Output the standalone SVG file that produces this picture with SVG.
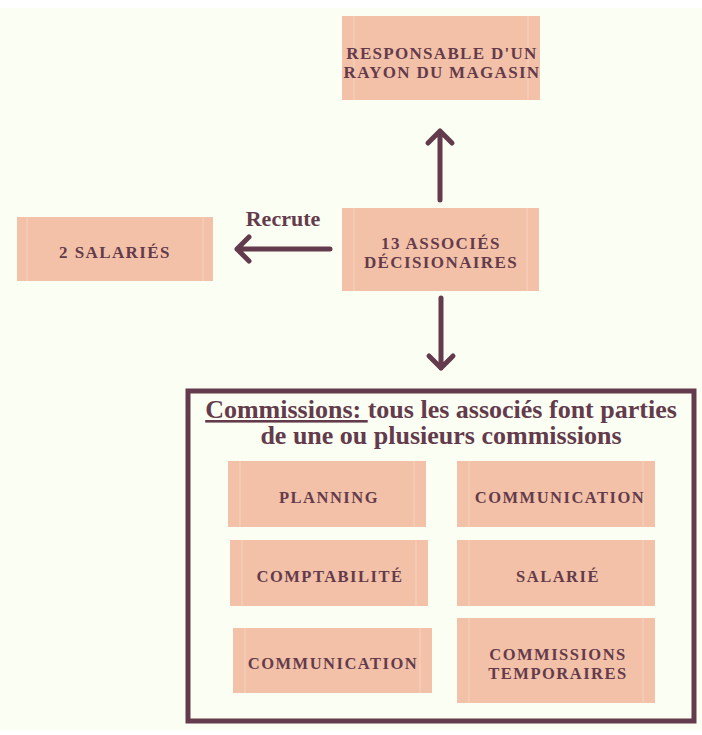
<svg xmlns="http://www.w3.org/2000/svg" width="702" height="735" viewBox="0 0 702 735">
<defs>
<style>
.box{fill:#F3C1A7}
.edge{stroke:#F7D3C0;stroke-width:1}
.lbl{font-family:"Liberation Serif",serif;font-weight:bold;font-size:16.5px;letter-spacing:1.5px;fill:#633B4C;text-anchor:middle}
.top{font-size:17px}
.title{font-family:"Liberation Serif",serif;font-weight:bold;font-size:26px;fill:#633B4C;text-anchor:middle}
.arr{stroke:#633B4C;stroke-width:5;stroke-linecap:round;stroke-linejoin:round;fill:none}
</style>
</defs>
<rect x="0" y="0" width="702" height="735" fill="#FFFFFF"/>
<rect x="0" y="8" width="702" height="722" fill="#FBFEF2"/>

<g id="connectors">
<path class="arr" d="M440 200 V131 M428 143 L440 131 L452 143"/>
<path class="arr" d="M330 249 H237 M249 237 L237 249 L249 261"/>
<path class="arr" d="M441 298 V368 M429 356 L441 368 L453 356"/>
<text x="283" y="226" class="title" style="font-size:22px">Recrute</text>
</g>

<g id="responsable">
<rect class="box" x="342" y="16" width="198" height="84"/>
<line class="edge" x1="354" y1="16" x2="354" y2="100"/><line class="edge" x1="528" y1="16" x2="528" y2="100"/>
<text class="lbl top" x="442" y="59" style="letter-spacing:1.3px">RESPONSABLE D'UN</text>
<text class="lbl top" x="442" y="78" style="letter-spacing:1.3px">RAYON DU MAGASIN</text>
</g>

<g id="associes">
<rect class="box" x="342" y="208" width="197" height="83"/>
<line class="edge" x1="354" y1="208" x2="354" y2="291"/><line class="edge" x1="527" y1="208" x2="527" y2="291"/>
<text class="lbl top" x="441" y="249" style="letter-spacing:1.4px">13 ASSOCIÉS</text>
<text class="lbl top" x="441" y="268" style="letter-spacing:1.4px">DÉCISIONAIRES</text>
</g>

<g id="salaries">
<rect class="box" x="17" y="217" width="196" height="64"/>
<line class="edge" x1="27" y1="217" x2="27" y2="281"/><line class="edge" x1="203" y1="217" x2="203" y2="281"/>
<text class="lbl top" x="115" y="258" style="letter-spacing:1.4px">2 SALARIÉS</text>
</g>

<g id="commissions">
<rect x="188" y="391" width="506" height="330" fill="none" stroke="#633B4C" stroke-width="5"/>
<text class="title" x="441" y="418"><tspan text-decoration="underline">Commissions: </tspan>tous les associés font parties</text>
<text class="title" x="441" y="444">de une ou plusieurs commissions</text>
</g>

<g id="planning">
<rect class="box" x="228" y="461" width="198" height="66"/>
<line class="edge" x1="240" y1="461" x2="240" y2="527"/><line class="edge" x1="414" y1="461" x2="414" y2="527"/>
<text class="lbl" x="329" y="503">PLANNING</text>
</g>

<g id="communication1">
<rect class="box" x="457" y="461" width="198" height="66"/>
<line class="edge" x1="469" y1="461" x2="469" y2="527"/><line class="edge" x1="643" y1="461" x2="643" y2="527"/>
<text class="lbl" x="560" y="503">COMMUNICATION</text>
</g>

<g id="comptabilite">
<rect class="box" x="230" y="540" width="198" height="66"/>
<line class="edge" x1="242" y1="540" x2="242" y2="606"/><line class="edge" x1="416" y1="540" x2="416" y2="606"/>
<text class="lbl" x="330" y="582">COMPTABILITÉ</text>
</g>

<g id="salarie">
<rect class="box" x="457" y="540" width="198" height="66"/>
<line class="edge" x1="469" y1="540" x2="469" y2="606"/><line class="edge" x1="643" y1="540" x2="643" y2="606"/>
<text class="lbl" x="558" y="582">SALARIÉ</text>
</g>

<g id="communication2">
<rect class="box" x="233" y="628" width="199" height="65"/>
<line class="edge" x1="245" y1="628" x2="245" y2="693"/><line class="edge" x1="420" y1="628" x2="420" y2="693"/>
<text class="lbl" x="333" y="669">COMMUNICATION</text>
</g>

<g id="temporaires">
<rect class="box" x="457" y="618" width="198" height="85"/>
<line class="edge" x1="469" y1="618" x2="469" y2="703"/><line class="edge" x1="643" y1="618" x2="643" y2="703"/>
<text class="lbl" x="558" y="660">COMMISSIONS</text>
<text class="lbl" x="558" y="679">TEMPORAIRES</text>
</g>
</svg>
